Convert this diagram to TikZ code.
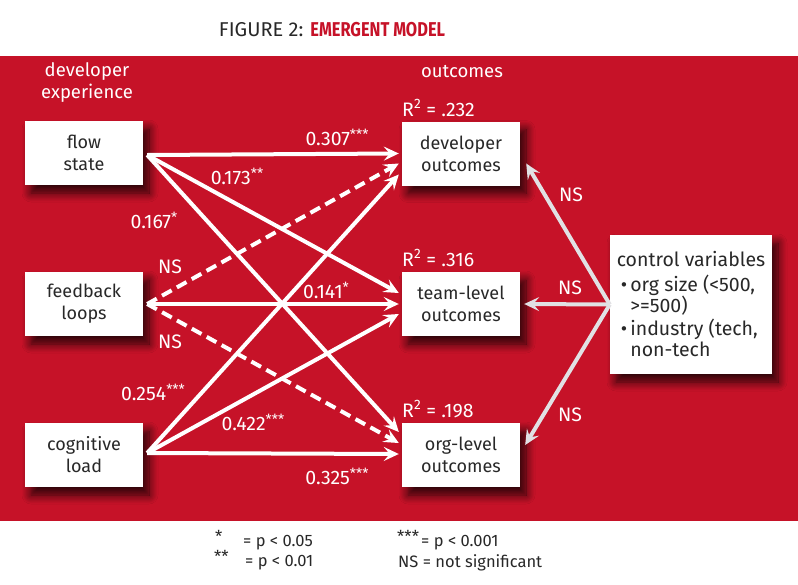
\documentclass[tikz,border=0pt]{standalone}
\usepackage{fontspec}
\setmainfont{Fira Sans}
\newfontfamily\condfont{Fira Sans}[FakeStretch=0.82]
\usetikzlibrary{arrows.meta,shadows.blur,calc}
\definecolor{bgred}{RGB}{198,18,40}
\definecolor{txtgray}{RGB}{40,40,40}
\definecolor{ctrlgray}{RGB}{225,225,228}
\newcommand\sigmark[1]{\raisebox{6pt}{\fontsize{14}{14}\selectfont #1}}
\tikzset{
  box/.style={fill=white,minimum width=118pt,minimum height=64pt,align=center,
    text=txtgray,font=\fontsize{18}{22}\selectfont,inner sep=2pt,
    blur shadow={shadow xshift=6pt,shadow yshift=-8pt,shadow blur steps=10,shadow opacity=80,shadow blur radius=9pt}},
  lbl/.style={text=white,font=\fontsize{19.5}{22}\selectfont,inner sep=1pt},
  legend/.style={text=txtgray,font=\fontsize{16.5}{18}\selectfont,inner sep=0pt,anchor=west},
  link/.style={draw=white,line width=4pt,-{Stealth[length=15pt,width=14pt,inset=6pt]}},
  nslink/.style={link,dash pattern=on 11pt off 6pt},
  ctrllink/.style={draw=ctrlgray,line width=4pt,-{Stealth[length=15pt,width=14pt,inset=6pt]}},
}
\begin{document}
\begin{tikzpicture}[x=1pt,y=-1pt]
\useasboundingbox (0,0) rectangle (798,584);
\fill[white] (0,0) rectangle (798,584);
\fill[bgred] (0,56) rectangle (798,521);

% title
\node[anchor=center,inner sep=0pt] (title) at (332,30)
  {\fontsize{20}{22}\selectfont\color{txtgray}FIGURE 2: {\condfont\bfseries\color{bgred}EMERGENT MODEL}};

% headers
\node[lbl,align=center,font=\fontsize{18.5}{22}\selectfont] (hdx) at (87,83) {developer\\experience};
\node[lbl,font=\fontsize{18.5}{22}\selectfont] (hdo) at (462,72) {outcomes};

% boxes
\node[box] (flow) at (84,153) {flow\\state};
\node[box] (feed) at (84,304) {feedback\\loops};
\node[box] (cog) at (84,455) {cognitive\\load};
\node[box] (dev) at (461,153.5) {developer\\outcomes};
\node[box] (team) at (461,304) {team-level\\outcomes};
\node[box] (org) at (461,455) {org-level\\outcomes};
\node[box,minimum width=162pt,minimum height=139pt,align=left,inner sep=3pt,
      font=\fontsize{19.5}{21}\selectfont] (ctrl) at (691,304.5)
  {control variables\\[4pt]
   \hspace{4pt}\textbullet\,org size (<500,\\
   \hspace{4pt}\phantom{\textbullet\,}>=500)\\[2pt]
   \hspace{4pt}\textbullet\,industry (tech,\\
   \hspace{4pt}\phantom{\textbullet\,}non-tech};

% R squared
\node[lbl,anchor=west] (r1) at (401,108) {R\textsuperscript{2} = .232};
\node[lbl,anchor=west] (r2) at (401,258) {R\textsuperscript{2} = .316};
\node[lbl,anchor=west] (r3) at (401,409) {R\textsuperscript{2} = .198};

% connector endpoints
\coordinate (fs) at ($(flow.east)+(4,2)$);
\coordinate (fb) at ($(feed.east)+(4,0)$);
\coordinate (cl) at ($(cog.east)+(4,-2)$);
\coordinate (d1) at ($(dev.west)+(-3,0)$);
\coordinate (d2) at ($(dev.west)+(-3,10)$);
\coordinate (d3) at ($(dev.west)+(-3,21)$);
\coordinate (t1) at ($(team.west)+(-3,-11)$);
\coordinate (t2) at ($(team.west)+(-3,0)$);
\coordinate (t3) at ($(team.west)+(-3,10)$);
\coordinate (o1) at ($(org.west)+(-3,-23)$);
\coordinate (o2) at ($(org.west)+(-3,-12)$);
\coordinate (o3) at ($(org.west)+(-3,-1)$);

% connectors
\draw[link] (fs) -- (d1);
\draw[link] (fs) -- (t1);
\draw[link] (fs) -- (o1);
\draw[nslink] (fb) -- (d2);
\draw[link] (fb) -- (t2);
\draw[nslink] (fb) -- (o2);
\draw[link] (cl) -- (d3);
\draw[link] (cl) -- (t3);
\draw[link] (cl) -- (o3);

\draw[ctrllink] (ctrl.west) -- ($(dev.east)+(6,10)$);
\draw[ctrllink] (ctrl.west) -- ($(team.east)+(4,0)$);
\draw[ctrllink] (ctrl.west) -- ($(org.east)+(5,-10)$);

% path labels
\node[lbl] (l1) at (337,137) {0.307\sigmark{***}};
\node[lbl] (l2) at (237,176) {0.173\sigmark{**}};
\node[lbl] (l3) at (154,220) {0.167\sigmark{*}};
\node[lbl] (l4) at (170,267) {NS};
\node[lbl] (l5) at (326,290) {0.141\sigmark{*}};
\node[lbl] (l6) at (170,342) {NS};
\node[lbl] (l7) at (153,392) {0.254\sigmark{***}};
\node[lbl] (l8) at (253,422) {0.422\sigmark{***}};
\node[lbl] (l9) at (337,476) {0.325\sigmark{***}};
\node[lbl] (c1) at (571,195) {NS};
\node[lbl] (c2) at (570,288) {NS};
\node[lbl] (c3) at (570,415) {NS};

% legend
\node[legend] (k1) at (215,536) {*};
\node[legend] (k1t) at (243,543) {= p < 0.05};
\node[legend] (k2) at (214,556) {**};
\node[legend] (k2t) at (245,563) {= p < 0.01};
\node[legend] (k3) at (397,536) {***};
\node[legend] (k3t) at (421,543) {= p < 0.001};
\node[legend] (k4) at (398,563) {NS = not significant};
\end{tikzpicture}
\end{document}
